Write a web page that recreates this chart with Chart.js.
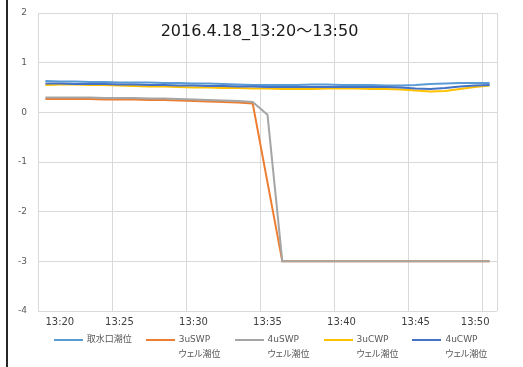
<!DOCTYPE html>
<html lang="ja">
<head>
<meta charset="utf-8">
<title>潮位 2016.4.18</title>
<script src="https://cdn.jsdelivr.net/npm/chart.js@4/dist/chart.umd.min.js"></script>
<style>
  html, body { margin: 0; padding: 0; background: #fff; }
  #wrap { position: relative; width: 523px; height: 367px; overflow: hidden; }
  #edge { position: absolute; left: 6px; top: 0; width: 2px; height: 367px; background: #262626; }
  #title {
    position: absolute; left: 0; top: 20px; width: 519px;
    text-align: center; font: 16px/21px "DejaVu Sans", "Noto Sans CJK JP", sans-serif;
    color: #1a1a1a;
  }
  #legend {
    position: absolute; left: 0; top: 332px; width: 541px;
    display: flex; justify-content: center; gap: 14px;
    font: 9px/15px "DejaVu Sans", "Noto Sans CJK JP", sans-serif;
    font-feature-settings: "palt";
    color: #595959;
  }
  .item { display: flex; align-items: flex-start; }
  .swatch { width: 29px; height: 2px; margin: 6.5px 4px 0 0; }
</style>
</head>
<body>
<div id="wrap">
  <canvas id="tide" width="523" height="367"></canvas>
  <div id="edge"></div>
  <div id="title">2016.4.18_13:20～13:50</div>
  <div id="legend"></div>
</div>
<script>
// 時刻 (1分ごと)
const timeLabels = [
  '13:20', '13:21', '13:22', '13:23', '13:24', '13:25', '13:26', '13:27', '13:28', '13:29',
  '13:30', '13:31', '13:32', '13:33', '13:34', '13:35', '13:36', '13:37', '13:38', '13:39',
  '13:40', '13:41', '13:42', '13:43', '13:44', '13:45', '13:46', '13:47', '13:48', '13:49',
  '13:50'
];

const yTicks = [-4, -3, -2, -1, 0, 1, 2];

// 系列名 (凡例は2行表示)
const seriesNames = [
  ['取水口潮位'],
  ['3uSWP', 'ウェル潮位'],
  ['4uSWP', 'ウェル潮位'],
  ['3uCWP', 'ウェル潮位'],
  ['4uCWP', 'ウェル潮位']
];

const intakeLevel = [
  0.63, 0.62, 0.62, 0.61, 0.61, 0.60, 0.60, 0.60, 0.59, 0.59,
  0.58, 0.58, 0.57, 0.56, 0.55, 0.55, 0.55, 0.55, 0.56, 0.56,
  0.55, 0.55, 0.55, 0.54, 0.54, 0.55, 0.57, 0.58, 0.59, 0.59,
  0.59
];

const swp3Level = [
  0.27, 0.27, 0.27, 0.27, 0.26, 0.26, 0.26, 0.25, 0.25, 0.24,
  0.23, 0.22, 0.21, 0.20, 0.18, -1.41, -3, -3, -3, -3,
  -3, -3, -3, -3, -3, -3, -3, -3, -3, -3,
  -3
];

const swp4Level = [
  0.30, 0.30, 0.30, 0.30, 0.29, 0.29, 0.29, 0.28, 0.28, 0.27,
  0.26, 0.25, 0.24, 0.23, 0.21, -0.05, -3, -3, -3, -3,
  -3, -3, -3, -3, -3, -3, -3, -3, -3, -3,
  -3
];

const cwp3Level = [
  0.55, 0.56, 0.56, 0.55, 0.55, 0.54, 0.53, 0.52, 0.52, 0.51,
  0.50, 0.50, 0.49, 0.49, 0.48, 0.48, 0.47, 0.47, 0.47, 0.48,
  0.48, 0.48, 0.47, 0.47, 0.46, 0.44, 0.42, 0.43, 0.47, 0.51,
  0.54
];

const cwp4Level = [
  0.58, 0.58, 0.57, 0.57, 0.57, 0.56, 0.56, 0.55, 0.55, 0.54,
  0.54, 0.53, 0.53, 0.52, 0.52, 0.51, 0.51, 0.51, 0.51, 0.51,
  0.51, 0.51, 0.51, 0.51, 0.50, 0.48, 0.47, 0.49, 0.52, 0.54,
  0.55
];

const seriesValues = [intakeLevel, swp3Level, swp4Level, cwp3Level, cwp4Level];
const seriesColors = ['#5b9bd5', '#ed7d31', '#a5a5a5', '#ffc000', '#4472c4'];

const gridColor = '#d9d9d9';
const latin = '"DejaVu Sans", "Noto Sans CJK JP", sans-serif';

const datasets = seriesNames.map((name, i) => ({
  label: name.join(' '),
  data: seriesValues[i],
  borderColor: seriesColors[i],
  backgroundColor: seriesColors[i],
  borderWidth: 2,
  pointRadius: 0,
  tension: 0,
  fill: false,
  // Excel と同じく後の系列を上に描く
  order: seriesNames.length - i
}));

new Chart(document.getElementById('tide'), {
  type: 'line',
  data: { labels: timeLabels, datasets: datasets },
  options: {
    responsive: false,
    animation: false,
    layout: { padding: { left: 8, right: 26, top: 13, bottom: 34 } },
    plugins: {
      tooltip: { enabled: false },
      legend: { display: false }
    },
    scales: {
      x: {
        type: 'category',
        offset: true,
        grid: {
          offset: true,
          drawTicks: false,
          color: (c) => (c.type !== 'tick' || c.index % 5 === 0) ? gridColor : 'transparent'
        },
        border: { display: false },
        ticks: {
          autoSkip: false,
          maxRotation: 0,
          align: 'inner',
          padding: 5,
          color: '#404040',
          font: { family: latin, size: 10 },
          callback: (v, i) => (i % 5 === 0 ? timeLabels[i] : '')
        }
      },
      y: {
        min: yTicks[0],
        max: yTicks[yTicks.length - 1],
        afterFit: (scale) => {
          scale.width = 30;
          scale.paddingTop = 0;
          scale.paddingBottom = 0;
        },
        grid: { color: gridColor, drawTicks: false },
        border: { display: false },
        ticks: {
          stepSize: 1,
          padding: 11,
          color: '#595959',
          font: { family: latin, size: 9 }
        }
      }
    }
  }
});

// 凡例 (HTML)
const legendBox = document.getElementById('legend');
seriesNames.forEach((name, i) => {
  const item = document.createElement('div');
  item.className = 'item';
  const swatch = document.createElement('span');
  swatch.className = 'swatch';
  swatch.style.background = seriesColors[i];
  const text = document.createElement('div');
  name.forEach(line => {
    const row = document.createElement('div');
    row.textContent = line;
    text.appendChild(row);
  });
  item.appendChild(swatch);
  item.appendChild(text);
  legendBox.appendChild(item);
});
</script>
</body>
</html>
